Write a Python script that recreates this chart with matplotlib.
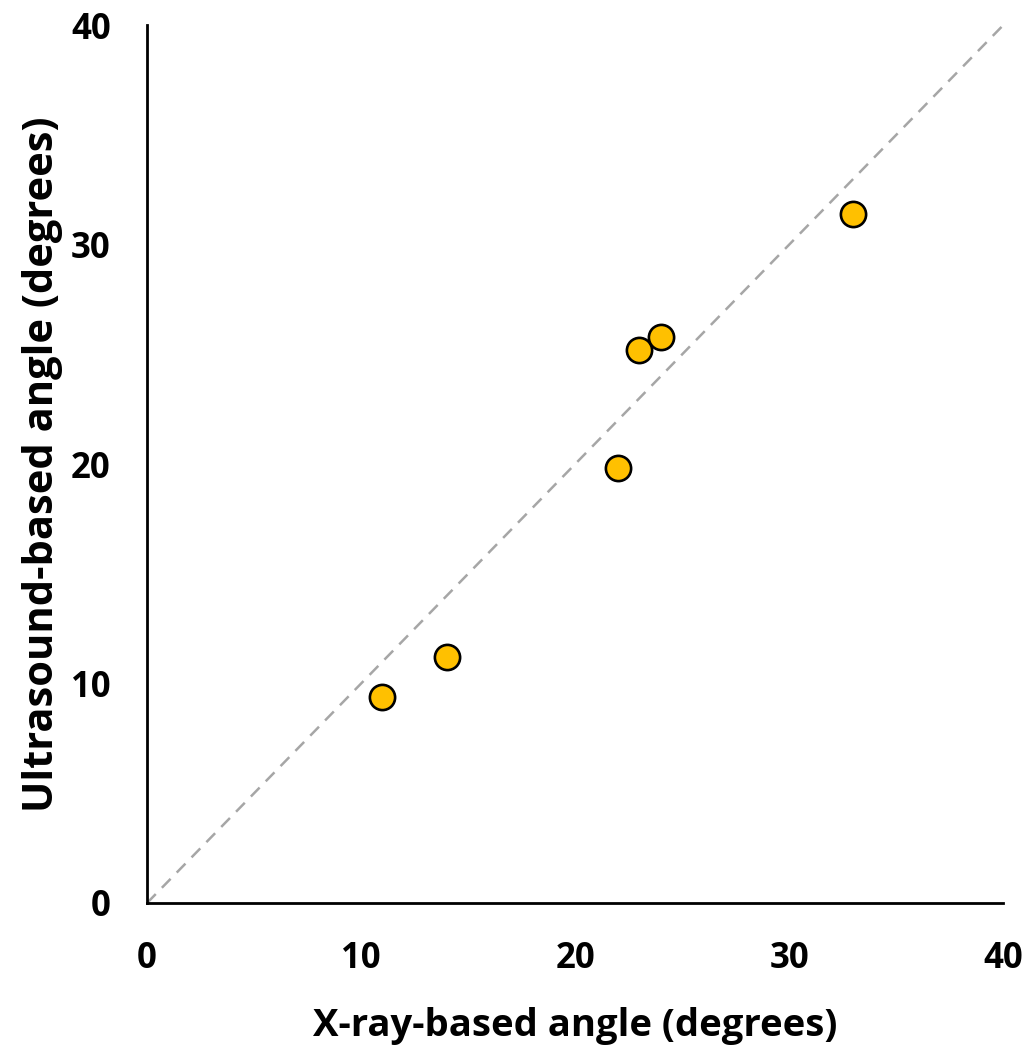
import matplotlib.pyplot as plt
import numpy as np

# X-ray vs ultrasound angles (degrees)
xray_angle = [11, 14, 22, 23, 24, 33]
us_angle = [9.4, 11.2, 19.8, 25.2, 25.8, 31.4]
ticks = [0, 10, 20, 30, 40]

plt.rcParams['font.family'] = ['Open Sans', 'DejaVu Sans']
plt.rcParams['font.weight'] = 'bold'

fig = plt.figure(figsize=(10.34, 10.5), dpi=100)
ax = fig.add_axes([0.1422, 0.14, 0.828, 0.836])

# identity line
ax.plot([0, 40], [0, 40], color='#a6a6a6', linestyle=(0, (5, 3.5)), linewidth=1.8, zorder=1)
ax.scatter(xray_angle, us_angle, s=330, color='#FFC000', edgecolors='black',
           linewidths=1.9, zorder=3, clip_on=False)

ax.set_xlim(0, 40)
ax.set_ylim(0, 40)
ax.set_xticks(ticks)
ax.set_yticks(ticks)
ax.tick_params(length=0, labelsize=25)
ax.tick_params(axis='x', pad=27)
ax.tick_params(axis='y', pad=26)
for lab in ax.get_xticklabels() + ax.get_yticklabels():
    lab.set_fontweight('bold')
for s in ['top', 'right']:
    ax.spines[s].set_visible(False)
for s in ['left', 'bottom']:
    ax.spines[s].set_linewidth(2)

ax.set_xlabel('X-ray-based angle (degrees)', fontsize=27.5, fontweight='bold', labelpad=22)
ax.set_ylabel('Ultrasound-based angle (degrees)', fontsize=30, fontweight='bold', labelpad=6)

plt.savefig('out.png', dpi=100)
